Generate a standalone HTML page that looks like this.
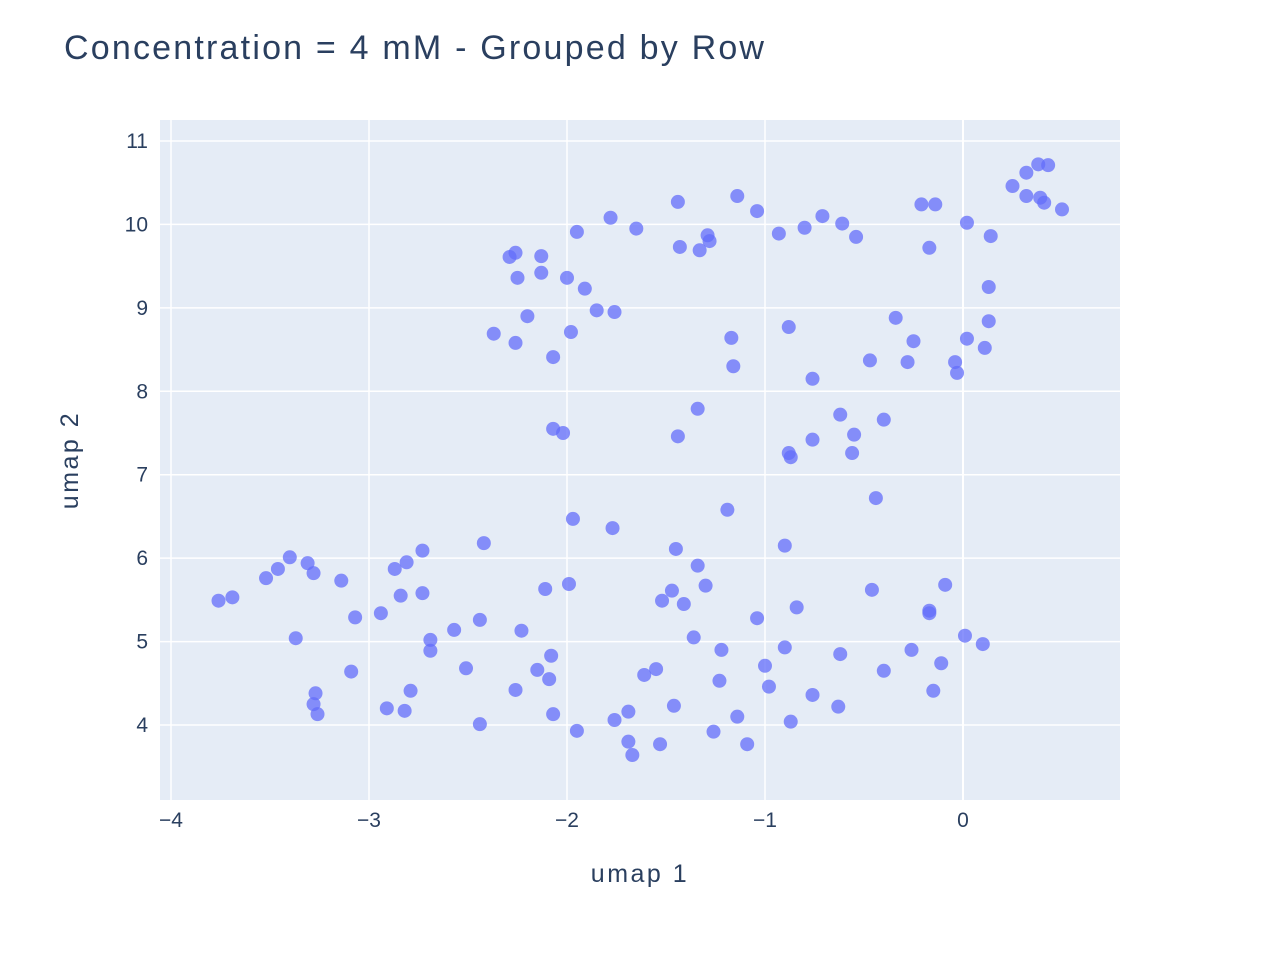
<!DOCTYPE html>
<html><head><meta charset="utf-8"><style>
body{margin:0;background:#fff;}
svg text{font-family:"Liberation Sans",sans-serif;fill:#2a3f5f;}
</style></head><body>
<svg id="chart" width="1280" height="960">
<rect x="160" y="120" width="960" height="680" fill="#e5ecf6"/>
<g id="grid"></g>
<g id="pts"></g>
<g id="ticks"></g>
<text x="64" y="59" font-size="34" letter-spacing="2.2">Concentration = 4 mM - Grouped by Row</text>
<text x="640" y="882" font-size="25" letter-spacing="2.5" text-anchor="middle">umap 1</text>
<text x="78" y="460" font-size="25" letter-spacing="2.5" text-anchor="middle" transform="rotate(-90 78 460)">umap 2</text>
</svg>
<script>
const xTicks=[-4,-3,-2,-1,0];
const yTicks=[4,5,6,7,8,9,10,11];
const xs=[0.38,0.43,0.32,0.25,0.32,0.39,0.41,0.50,-0.21,-0.14,0.02,0.14,-0.17,0.13,0.13,0.02,0.11,-0.04,-0.03,-0.34,-0.25,-0.28,-0.47,-0.40,-0.62,-0.55,-0.56,-0.76,-0.88,-0.87,-0.44,-0.76,-0.88,-1.17,-1.16,-1.34,-1.44,-1.14,-1.04,-0.71,-0.61,-0.80,-0.93,-0.54,-1.44,-1.29,-1.28,-1.43,-1.33,-1.65,-1.78,-1.95,-2.29,-2.26,-2.13,-2.13,-2.25,-2.00,-1.91,-1.85,-1.76,-2.20,-2.37,-1.98,-2.26,-2.07,-2.07,-2.02,
-1.97,-1.77,-1.19,-1.45,-0.90,-1.34,-1.30,-1.47,-1.52,-1.41,-1.99,-2.11,-1.04,-0.84,-0.46,-0.09,-0.17,-0.17,0.01,0.10,-1.36,-1.22,-0.90,-0.62,-0.26,-0.11,-1.00,-0.40,-1.55,-1.61,-1.23,-0.98,-0.76,-0.15,-0.63,-1.46,-1.69,-1.76,-1.14,-0.87,-1.26,-1.09,-1.53,-1.69,-1.67,-1.95,-2.07,-2.44,-2.26,-2.15,-2.08,-2.09,-2.23,-2.44,-2.57,-2.51,-2.69,-2.69,-2.42,-2.73,-2.81,-2.87,-2.73,-2.84,-2.94,-3.07,-3.14,-3.28,-3.31,-3.40,-3.46,-3.52,-3.69,-3.76,-3.37,-3.09,-2.79,-2.91,-2.82,-3.27,-3.28,-3.26];
const ys=[10.72,10.71,10.62,10.46,10.34,10.32,10.26,10.18,10.24,10.24,10.02,9.86,9.72,9.25,8.84,8.63,8.52,8.35,8.22,8.88,8.60,8.35,8.37,7.66,7.72,7.48,7.26,7.42,7.26,7.21,6.72,8.15,8.77,8.64,8.30,7.79,7.46,10.34,10.16,10.10,10.01,9.96,9.89,9.85,10.27,9.87,9.80,9.73,9.69,9.95,10.08,9.91,9.61,9.66,9.62,9.42,9.36,9.36,9.23,8.97,8.95,8.90,8.69,8.71,8.58,8.41,7.55,7.50,
6.47,6.36,6.58,6.11,6.15,5.91,5.67,5.61,5.49,5.45,5.69,5.63,5.28,5.41,5.62,5.68,5.37,5.34,5.07,4.97,5.05,4.90,4.93,4.85,4.90,4.74,4.71,4.65,4.67,4.60,4.53,4.46,4.36,4.41,4.22,4.23,4.16,4.06,4.10,4.04,3.92,3.77,3.77,3.80,3.64,3.93,4.13,4.01,4.42,4.66,4.83,4.55,5.13,5.26,5.14,4.68,5.02,4.89,6.18,6.09,5.95,5.87,5.58,5.55,5.34,5.29,5.73,5.82,5.94,6.01,5.87,5.76,5.53,5.49,5.04,4.64,4.41,4.20,4.17,4.38,4.25,4.13];
const NS='http://www.w3.org/2000/svg';
const X=v=>963+v*198, Y=v=>725-(v-4)*83.43;
const grid=document.getElementById('grid'),tk=document.getElementById('ticks'),pts=document.getElementById('pts');
xTicks.forEach(t=>{
 const l=document.createElementNS(NS,'line');
 l.setAttribute('x1',X(t));l.setAttribute('x2',X(t));l.setAttribute('y1',120);l.setAttribute('y2',800);
 l.setAttribute('stroke','#fff');l.setAttribute('stroke-width',t===0?2:1.5);
 
 
 grid.appendChild(l);
 const s=document.createElementNS(NS,'text');
 s.setAttribute('x',X(t));s.setAttribute('y',827);s.setAttribute('font-size','21');s.setAttribute('text-anchor','middle');
 s.textContent=t<0?'\u2212'+(-t):String(t);
 
 
 tk.appendChild(s);
});
yTicks.forEach(t=>{
 const l=document.createElementNS(NS,'line');
 l.setAttribute('x1',160);l.setAttribute('x2',1120);l.setAttribute('y1',Y(t));l.setAttribute('y2',Y(t));
 l.setAttribute('stroke','#fff');l.setAttribute('stroke-width',1.5);
 
 
 grid.appendChild(l);
 const s=document.createElementNS(NS,'text');
 s.setAttribute('x',148);s.setAttribute('y',Y(t)+7);s.setAttribute('font-size','21');s.setAttribute('text-anchor','end');
 s.textContent=String(t);
 
 
 tk.appendChild(s);
});
xs.forEach((v,i)=>{
 const c=document.createElementNS(NS,'circle');
 c.setAttribute('cx',X(v));c.setAttribute('cy',Y(ys[i]));c.setAttribute('r',7);
 c.setAttribute('fill','#636efa');c.setAttribute('fill-opacity','0.75');
 
 
 pts.appendChild(c);
});
</script>
</body></html>
